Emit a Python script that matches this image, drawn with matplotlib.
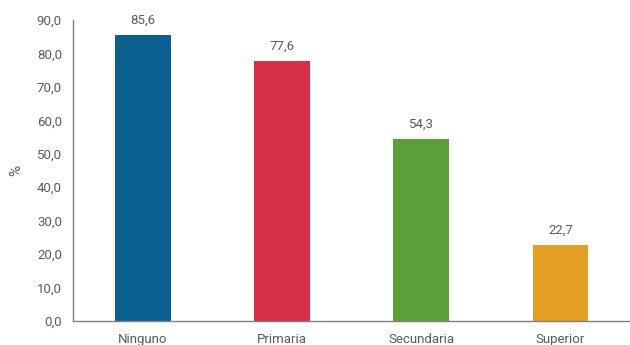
import matplotlib
matplotlib.use("Agg")
import matplotlib.pyplot as plt

categories = ["Ninguno", "Primaria", "Secundaria", "Superior"]
values = [85.6, 77.6, 54.3, 22.7]
colors = ["#0a6091", "#d72f48", "#5b9f37", "#e5a023"]
yticks = [0, 10, 20, 30, 40, 50, 60, 70, 80, 90]

plt.rcParams['font.family'] = ['Roboto', 'DejaVu Sans']
txt = "#595959"

fig = plt.figure(figsize=(6.3, 3.45), dpi=100)
ax = fig.add_axes([0.116, 0.07, 0.884, 0.872])

x = range(len(categories))
bars = ax.bar(x, values, width=0.4, color=colors)
for xi, v in zip(x, values):
    ax.text(xi, v + 2.5, f"{v:.1f}".replace(".", ","), ha="center", va="bottom",
            fontsize=9.5, color=txt)

ax.set_xlim(-0.5, 3.5)
ax.set_ylim(0, 90)
ax.set_yticks(yticks)
ax.set_yticklabels([f"{t:.1f}".replace(".", ",") for t in yticks], fontsize=9.5, color=txt)
ax.set_xticks(list(x))
ax.set_xticklabels(categories, fontsize=9.5, color=txt)
ax.tick_params(axis="y", length=0, pad=8)
ax.tick_params(axis="x", length=0, pad=9)
ax.set_ylabel("%", fontsize=11, color=txt, labelpad=10)

for s in ["top", "right"]:
    ax.spines[s].set_visible(False)
for s in ["left", "bottom"]:
    ax.spines[s].set_color("#7f7f7f")
    ax.spines[s].set_linewidth(1)

fig.savefig("out.png", dpi=100)
